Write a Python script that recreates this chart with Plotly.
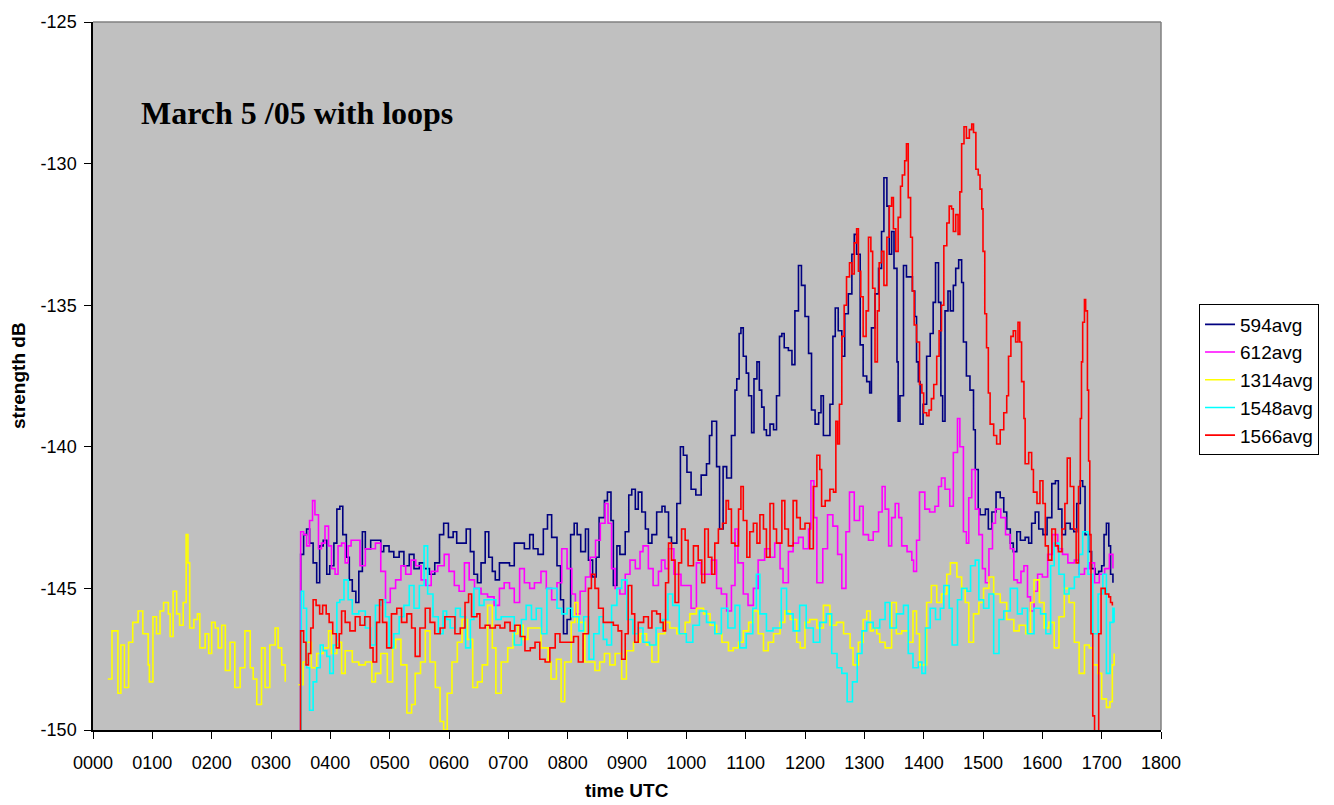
import plotly.graph_objects as go

# ---------------- data (time in HHMM-like units, 100 = 1 hour; values in dB) ----------------
t_594 = [348, 350, 355, 360, 365, 371, 377, 382, 388, 394, 399, 406, 411, 416, 421, 427, 432, 437, 443, 448,
         454, 459, 468, 476, 485, 490, 499, 507, 516, 524, 533, 541, 550, 558, 567, 576, 584, 591, 599, 607,
         613, 622, 629, 636, 642, 648, 654, 661, 667, 673, 678, 685, 693, 702, 710, 719, 727, 736, 742, 750,
         759, 766, 773, 782, 788, 793, 799, 805, 811, 816, 822, 830, 835, 842, 848, 853, 862, 867, 873, 877,
         883, 888, 897, 903, 908, 914, 919, 925, 931, 936, 942, 950, 959, 964, 970, 975, 984, 990, 995, 1001,
         1008, 1016, 1025, 1034, 1039, 1043, 1051, 1056, 1062, 1068, 1076, 1082, 1085, 1089, 1092, 1096, 1101,
         1105, 1110, 1114, 1119, 1123, 1127, 1131, 1135, 1141, 1147, 1152, 1157, 1161, 1165, 1172, 1178, 1183,
         1189, 1194, 1200, 1206, 1211, 1217, 1223, 1227, 1231, 1237, 1242, 1247, 1251, 1256, 1262, 1267, 1273,
         1279, 1283, 1287, 1293, 1298, 1304, 1309, 1312, 1318, 1324, 1329, 1333, 1338, 1342, 1346, 1350, 1355,
         1357, 1360, 1366, 1371, 1377, 1381, 1385, 1388, 1391, 1394, 1399, 1405, 1411, 1416, 1420, 1425, 1429,
         1432, 1436, 1441, 1445, 1450, 1454, 1459, 1464, 1467, 1472, 1478, 1484, 1487, 1492, 1495, 1504, 1509,
         1515, 1522, 1529, 1535, 1540, 1546, 1551, 1557, 1563, 1571, 1577, 1582, 1588, 1594, 1601, 1608, 1616,
         1622, 1627, 1633, 1639, 1647, 1653, 1658, 1664, 1668, 1672, 1678, 1683, 1689, 1695, 1700, 1704, 1708,
         1712, 1715, 1719]
v_594 = [-150.5, -143.8, -143.1, -142.9, -143.4, -144.1, -144.8, -143.5, -143.3, -144.5, -144.2, -143.4, -142.2,
         -142.1, -143.1, -143.9, -144.7, -145.1, -145.5, -144.4, -143.0, -143.6, -143.3, -143.3, -143.7, -143.5,
         -143.7, -143.9, -143.7, -144.2, -143.8, -144.3, -144.1, -144.3, -144.5, -144.1, -143.1, -142.7, -143.2,
         -143.0, -143.4, -143.4, -142.9, -143.7, -144.5, -144.8, -144.1, -143.0, -143.9, -144.4, -144.7, -144.1,
         -144.1, -144.2, -143.4, -143.4, -143.6, -143.1, -143.6, -143.8, -142.9, -142.4, -143.2, -144.2, -145.4,
         -146.6, -146.1, -143.1, -142.7, -143.1, -143.7, -142.9, -144.0, -144.6, -143.9, -142.5, -141.9, -141.6,
         -142.6, -144.9, -143.5, -143.8, -143.0, -141.7, -141.5, -142.2, -141.6, -142.3, -142.9, -143.4, -143.1,
         -142.3, -142.1, -142.3, -143.2, -143.4, -142.0, -140.0, -140.3, -140.9, -141.5, -141.7, -141.0, -140.6,
         -139.6, -139.1, -140.7, -142.9, -140.7, -141.1, -139.6, -138.0, -137.6, -136.0, -135.8, -136.8, -137.4,
         -138.2, -139.5, -137.6, -137.0, -138.0, -138.6, -139.4, -139.6, -139.2, -139.4, -138.2, -136.1, -136.0,
         -136.5, -136.6, -137.1, -135.2, -133.6, -134.3, -135.4, -136.7, -138.7, -139.2, -138.8, -138.2, -139.6,
         -139.6, -138.5, -136.1, -135.1, -135.9, -136.8, -135.3, -134.6, -133.2, -132.5, -133.2, -136.4, -137.5,
         -137.7, -138.1, -135.8, -134.6, -133.7, -132.4, -130.5, -131.5, -133.2, -132.4, -133.7, -137.0, -139.1,
         -138.2, -133.6, -134.0, -134.0, -134.5, -135.4, -137.0, -137.7, -139.2, -138.5, -136.8, -136.0, -134.9,
         -133.5, -134.9, -138.2, -139.1, -135.2, -134.5, -135.2, -134.3, -133.7, -133.4, -134.2, -136.3, -137.5,
         -138.0, -139.4, -140.8, -142.2, -142.4, -142.2, -142.9, -142.3, -141.6, -141.8, -142.3, -142.9, -143.4,
         -143.7, -143.0, -143.3, -143.2, -143.4, -142.7, -142.3, -142.9, -143.1, -142.5, -141.3, -141.2, -142.2,
         -143.1, -142.7, -142.9, -143.0, -142.0, -141.2, -141.4, -143.1, -143.7, -144.3, -144.5, -144.4, -144.2,
         -143.1, -142.7, -143.5, -144.5, -144.8]

t_612 = [349, 350, 355, 360, 365, 370, 374, 380, 385, 391, 397, 402, 408, 413, 419, 425, 430, 435, 444, 450,
         459, 467, 476, 485, 493, 501, 510, 519, 527, 536, 544, 553, 561, 570, 581, 592, 600, 609, 617, 626,
         634, 643, 654, 665, 676, 685, 693, 702, 710, 719, 727, 736, 744, 755, 764, 773, 782, 790, 799, 807,
         813, 821, 830, 838, 847, 855, 863, 868, 874, 880, 888, 897, 905, 914, 922, 927, 936, 944, 953, 958,
         964, 970, 979, 991, 999, 1008, 1017, 1025, 1034, 1042, 1051, 1059, 1068, 1076, 1082, 1087, 1096, 1104,
         1113, 1121, 1132, 1141, 1149, 1158, 1163, 1172, 1180, 1189, 1197, 1206, 1210, 1215, 1220, 1230, 1238,
         1247, 1255, 1262, 1269, 1275, 1283, 1292, 1298, 1307, 1315, 1324, 1330, 1335, 1341, 1346, 1352, 1358,
         1363, 1372, 1380, 1383, 1388, 1393, 1402, 1410, 1419, 1425, 1430, 1436, 1444, 1450, 1457, 1461, 1467,
         1472, 1476, 1481, 1487, 1493, 1499, 1504, 1510, 1516, 1521, 1530, 1538, 1546, 1552, 1558, 1564, 1569,
         1575, 1580, 1586, 1592, 1600, 1609, 1617, 1626, 1634, 1643, 1654, 1662, 1671, 1679, 1688, 1696, 1705,
         1713, 1719]
v_612 = [-150.5, -143.0, -143.1, -143.5, -142.6, -141.9, -142.4, -143.6, -143.4, -142.8, -143.5, -144.3, -144.5,
         -143.5, -143.4, -144.1, -143.5, -143.3, -143.3, -144.2, -143.6, -143.6, -143.4, -144.4, -145.5, -145.0,
         -144.7, -144.2, -144.5, -144.0, -144.2, -144.7, -144.9, -144.4, -144.2, -143.8, -144.4, -144.9, -145.1,
         -144.1, -144.7, -145.0, -145.2, -145.3, -145.6, -145.0, -144.8, -145.0, -145.5, -144.3, -144.8, -145.0,
         -144.8, -144.4, -145.0, -145.4, -144.8, -143.6, -144.3, -145.2, -145.9, -145.1, -144.6, -143.9, -143.3,
         -142.7, -142.0, -142.7, -144.3, -145.0, -145.2, -144.5, -144.0, -144.3, -143.7, -143.5, -144.3, -144.9,
         -144.4, -144.0, -144.3, -143.6, -144.5, -144.9, -144.9, -145.7, -144.1, -144.5, -144.5, -144.0, -145.0,
         -145.2, -145.8, -144.9, -142.9, -144.1, -145.2, -145.6, -145.0, -144.0, -143.6, -143.9, -143.4, -144.3,
         -144.8, -143.7, -143.4, -143.2, -143.6, -142.9, -141.2, -142.5, -144.8, -143.6, -142.4, -142.8, -143.8,
         -145.0, -143.0, -141.6, -142.6, -142.1, -143.1, -143.3, -143.0, -142.3, -141.4, -142.2, -143.5, -142.5,
         -142.0, -142.5, -143.5, -143.7, -144.0, -144.4, -143.3, -141.6, -142.2, -142.3, -142.1, -141.4, -141.1,
         -141.5, -142.1, -140.2, -139.0, -140.0, -143.0, -143.4, -141.8, -140.8, -142.2, -143.1, -144.3, -144.8,
         -143.6, -142.7, -142.2, -142.5, -143.1, -143.6, -144.7, -144.8, -144.4, -144.2, -145.3, -145.8, -145.1,
         -144.5, -144.6, -143.8, -143.1, -143.6, -143.8, -144.1, -144.0, -144.5, -144.3, -144.1, -144.8, -144.5,
         -144.3, -143.8, -144.3]

t_1314 = [25, 32, 42, 47, 53, 60, 67, 76, 84, 93, 95, 101, 107, 113, 119, 127, 130, 135, 141, 146, 152, 157,
          160, 163, 170, 176, 180, 189, 195, 200, 206, 211, 217, 223, 231, 239, 248, 256, 265, 270, 276, 284,
          290, 298, 307, 312, 318, 324, 335, 346, 354, 360, 368, 377, 388, 397, 402, 411, 419, 425, 437, 448,
          459, 470, 476, 485, 496, 505, 510, 519, 529, 537, 543, 552, 560, 568, 577, 585, 591, 597, 605, 614,
          622, 631, 640, 648, 656, 665, 673, 679, 688, 699, 708, 716, 725, 733, 744, 755, 767, 772, 781, 789,
          795, 806, 812, 817, 829, 837, 846, 854, 862, 871, 880, 891, 899, 911, 922, 933, 942, 953, 964, 972,
          984, 998, 1006, 1017, 1029, 1040, 1051, 1060, 1071, 1079, 1088, 1096, 1105, 1113, 1121, 1130, 1138,
          1147, 1158, 1166, 1175, 1186, 1192, 1200, 1208, 1220, 1231, 1242, 1253, 1265, 1276, 1281, 1290, 1298,
          1304, 1310, 1315, 1321, 1326, 1335, 1346, 1354, 1363, 1374, 1382, 1388, 1393, 1405, 1413, 1422, 1430,
          1439, 1445, 1456, 1464, 1470, 1476, 1484, 1493, 1501, 1510, 1518, 1529, 1540, 1552, 1561, 1572, 1580,
          1586, 1595, 1603, 1611, 1620, 1628, 1637, 1645, 1654, 1662, 1671, 1679, 1685, 1694, 1700, 1708, 1714,
          1718, 1721]
v_1314 = [-148.2, -146.5, -148.7, -147.0, -148.5, -146.9, -146.2, -145.8, -146.6, -147.7, -148.3, -146.0, -146.6,
          -145.8, -145.5, -145.9, -146.7, -145.1, -145.9, -146.3, -145.5, -143.1, -144.1, -146.4, -146.1, -145.9,
          -147.1, -146.6, -147.3, -146.2, -146.4, -147.1, -146.3, -147.9, -146.9, -148.5, -147.8, -146.5, -147.8,
          -148.2, -149.1, -147.1, -148.5, -147.0, -146.4, -147.1, -147.7, -148.3, None, -148.4, -147.6, -146.9,
          -147.8, -147.3, -147.1, -146.5, -147.3, -146.9, -148.0, -147.2, -147.6, -147.7, -147.6, -148.3, -148.0,
          -147.3, -148.3, -147.1, -146.8, -147.7, -149.4, -149.1, -148.0, -147.6, -146.5, -147.6, -148.5, -149.7,
          -150.0, -148.7, -147.6, -146.9, -146.1, -146.8, -148.5, -148.3, -147.7, -145.6, -147.1, -148.7, -147.6,
          -147.1, -146.6, -146.3, -146.8, -146.4, -146.4, -147.1, -147.6, -148.2, -147.5, -149.0, -147.6, -146.2,
          -145.5, -146.2, -147.6, -147.6, -147.9, -147.6, -147.3, -147.7, -147.3, -148.2, -147.2, -146.9, -146.6,
          -147.0, -147.6, -146.6, -146.2, -146.4, -146.6, -146.2, -145.9, -145.7, -145.9, -146.3, -146.6, -146.9,
          -147.2, -147.1, -146.9, -146.5, -146.2, -145.8, -146.6, -147.2, -146.9, -146.6, -146.2, -145.8, -146.1,
          -146.9, -147.1, -146.2, -146.1, -146.4, -145.6, -146.3, -146.2, -146.6, -147.1, -147.7, -146.9, -146.1,
          -145.8, -146.5, -146.4, -146.6, -146.9, -147.1, -145.5, -146.6, -146.5, -146.9, -145.8, -146.6, -147.7,
          -145.5, -144.9, -145.5, -145.2, -144.5, -144.1, -144.6, -145.0, -145.5, -146.9, -145.9, -145.5, -145.0,
          -144.6, -145.2, -145.5, -146.1, -146.5, -146.3, -146.6, -145.5, -144.7, -145.5, -146.4, -146.2, -147.1,
          -146.0, -145.0, -145.5, -146.9, -148.0, -147.0, -147.1, -147.7, -148.0, -148.9, -149.2, -149.0, -147.7,
          -147.3]

t_1548 = [349, 351, 355, 360, 365, 371, 377, 383, 388, 394, 399, 405, 411, 416, 423, 430, 437, 448, 459, 468,
          476, 485, 493, 499, 507, 516, 524, 533, 541, 550, 558, 564, 573, 582, 590, 596, 602, 611, 619, 628,
          636, 642, 651, 659, 670, 679, 688, 699, 710, 722, 730, 739, 747, 756, 765, 773, 782, 790, 799, 807,
          819, 827, 836, 844, 853, 860, 866, 874, 883, 891, 900, 910, 919, 927, 938, 949, 960, 969, 977, 988,
          1000, 1011, 1022, 1034, 1048, 1059, 1070, 1082, 1090, 1101, 1112, 1118, 1124, 1135, 1146, 1160, 1169,
          1180, 1191, 1202, 1214, 1225, 1236, 1245, 1254, 1262, 1271, 1280, 1288, 1296, 1304, 1315, 1326, 1335,
          1343, 1354, 1366, 1374, 1382, 1391, 1397, 1403, 1411, 1420, 1428, 1434, 1443, 1448, 1457, 1464, 1473,
          1479, 1487, 1493, 1501, 1510, 1518, 1527, 1535, 1546, 1558, 1566, 1575, 1586, 1597, 1606, 1614, 1620,
          1628, 1637, 1645, 1654, 1662, 1668, 1677, 1685, 1694, 1702, 1708, 1714, 1719, 1721]
v_1548 = [-150.5, -145.1, -145.7, -147.8, -149.3, -148.3, -147.8, -147.0, -147.2, -147.4, -148.0, -147.0, -145.5,
          -145.4, -144.7, -145.4, -145.9, -145.8, -146.4, -147.0, -145.6, -145.4, -146.0, -147.1, -146.6, -146.0,
          -145.6, -144.9, -145.7, -144.9, -143.5, -145.2, -146.0, -146.6, -145.8, -146.1, -146.4, -145.7, -146.0,
          -147.1, -146.1, -145.0, -145.6, -145.4, -145.4, -146.1, -146.0, -146.0, -147.0, -146.1, -145.6, -146.1,
          -145.7, -146.6, -145.0, -145.0, -145.7, -145.9, -145.7, -146.0, -146.5, -146.0, -147.5, -146.6, -146.0,
          -146.8, -147.0, -145.6, -145.0, -144.7, -146.1, -146.6, -146.4, -146.9, -147.0, -146.4, -146.1, -145.2,
          -145.6, -146.6, -146.9, -146.3, -145.8, -146.2, -146.6, -145.7, -146.4, -145.6, -147.1, -146.6, -145.7,
          -144.5, -145.9, -146.5, -146.4, -145.0, -145.9, -146.5, -145.6, -146.4, -146.9, -146.2, -145.9, -147.3,
          -147.8, -148.0, -149.0, -148.3, -147.3, -146.5, -146.2, -146.4, -146.1, -145.5, -146.4, -145.9, -145.6,
          -147.3, -147.8, -147.6, -148.0, -146.4, -145.7, -146.1, -145.7, -144.9, -145.7, -147.0, -145.4, -145.0,
          -145.1, -144.2, -144.0, -145.4, -145.7, -145.2, -147.3, -146.1, -145.8, -145.0, -145.9, -145.7, -146.6,
          -145.7, -145.9, -146.6, -144.2, -143.4, -144.5, -145.2, -145.0, -144.6, -143.8, -143.0, -144.5, -146.6,
          -145.2, -144.5, -148.0, -146.2, -145.7, -146.2]

t_1566 = [349, 350, 355, 359, 363, 367, 371, 376, 382, 387, 393, 398, 404, 410, 415, 419, 425, 433, 442, 450,
          458, 467, 472, 478, 483, 488, 495, 503, 512, 520, 529, 537, 543, 551, 560, 568, 576, 585, 593, 602,
          610, 619, 627, 633, 638, 647, 652, 661, 669, 678, 686, 694, 703, 711, 720, 728, 737, 745, 753, 762,
          770, 779, 787, 798, 810, 818, 826, 835, 840, 846, 852, 860, 869, 877, 885, 891, 897, 902, 908, 913,
          919, 928, 936, 942, 950, 956, 961, 965, 970, 975, 981, 987, 992, 998, 1003, 1012, 1020, 1026, 1031,
          1037, 1043, 1048, 1054, 1061, 1067, 1071, 1076, 1082, 1088, 1092, 1096, 1102, 1107, 1113, 1119, 1124,
          1130, 1135, 1141, 1147, 1152, 1161, 1166, 1172, 1180, 1186, 1192, 1200, 1208, 1214, 1220, 1225, 1228,
          1234, 1242, 1248, 1252, 1255, 1258, 1262, 1266, 1270, 1275, 1279, 1283, 1287, 1290, 1294, 1298, 1303,
          1307, 1311, 1314, 1318, 1322, 1325, 1329, 1333, 1338, 1342, 1346, 1349, 1353, 1357, 1361, 1364, 1368,
          1371, 1374, 1378, 1381, 1384, 1388, 1393, 1397, 1400, 1405, 1409, 1413, 1417, 1422, 1426, 1430, 1434,
          1439, 1443, 1447, 1450, 1454, 1458, 1461, 1464, 1468, 1472, 1477, 1481, 1484, 1488, 1492, 1495, 1498,
          1500, 1503, 1506, 1509, 1512, 1518, 1523, 1529, 1535, 1540, 1543, 1547, 1551, 1555, 1559, 1562, 1565,
          1569, 1571, 1577, 1582, 1585, 1591, 1596, 1601, 1605, 1610, 1616, 1622, 1627, 1633, 1638, 1642, 1647,
          1653, 1657, 1661, 1664, 1666, 1668, 1671, 1673, 1676, 1678, 1680, 1682, 1685, 1688, 1692, 1695, 1699,
          1702, 1706, 1712, 1715, 1718]
v_1566 = [-150.5, -146.5, -146.9, -147.7, -147.3, -146.4, -145.4, -145.6, -145.9, -145.6, -145.9, -146.2, -146.6,
          -147.1, -146.6, -145.8, -146.2, -146.5, -146.0, -146.3, -146.0, -147.1, -147.6, -146.2, -145.4, -146.2,
          -147.1, -145.9, -145.7, -146.2, -145.9, -146.4, -147.4, -146.4, -145.7, -146.2, -146.6, -146.4, -146.0,
          -146.0, -146.6, -146.4, -145.5, -145.2, -146.0, -145.9, -146.4, -146.3, -146.4, -146.3, -146.4, -146.2,
          -146.5, -146.3, -146.7, -147.2, -147.1, -146.9, -147.5, -147.6, -147.1, -146.6, -146.9, -146.9, -146.7,
          -147.6, -146.6, -145.0, -144.5, -145.0, -145.7, -146.2, -146.2, -146.3, -146.5, -147.5, -146.6, -144.9,
          -145.9, -146.9, -146.2, -146.0, -146.4, -145.8, -145.9, -146.2, -146.5, -144.8, -143.4, -144.0, -145.5,
          -144.1, -142.9, -143.3, -144.2, -143.5, -144.0, -144.8, -142.9, -143.9, -144.5, -143.4, -142.9, -142.7,
          -141.9, -142.2, -143.4, -143.5, -142.2, -141.4, -142.6, -143.9, -143.0, -142.7, -143.4, -142.4, -142.9,
          -143.9, -142.0, -142.9, -143.4, -141.9, -142.9, -143.5, -141.9, -142.5, -142.9, -142.7, -143.6, -141.4,
          -140.3, -140.8, -142.1, -141.9, -141.5, -141.6, -139.1, -139.9, -138.5, -136.1, -135.0, -134.0, -133.5,
          -133.9, -132.8, -132.3, -133.8, -134.7, -136.1, -135.2, -132.6, -133.1, -134.4, -137.0, -135.2, -133.5,
          -133.1, -134.3, -132.6, -131.5, -131.2, -132.3, -133.1, -131.9, -130.8, -130.4, -129.9, -129.3, -131.2,
          -132.6, -134.5, -135.7, -136.3, -137.8, -138.1, -138.8, -138.9, -138.7, -138.3, -137.8, -136.8, -135.9,
          -135.0, -132.9, -132.1, -131.5, -131.6, -132.4, -131.8, -132.5, -131.0, -129.3, -128.7, -129.1, -128.8,
          -128.6, -128.9, -130.2, -130.4, -130.9, -131.6, -133.1, -135.3, -136.5, -138.1, -139.2, -139.6, -139.9,
          -139.4, -138.8, -138.2, -136.8, -136.1, -135.9, -136.3, -135.6, -136.3, -137.7, -139.0, -140.6, -140.2,
          -140.8, -141.6, -142.0, -141.2, -142.0, -143.5, -144.0, -142.9, -143.5, -143.7, -142.9, -142.0, -140.4,
          -141.4, -142.9, -144.1, -141.4, -139.0, -137.0, -135.6, -134.8, -135.2, -138.0, -140.5, -143.1, -146.6,
          -149.5, -150.5, -150.5, -146.6, -145.0, -145.0, -145.2, -145.3, -145.5, -145.6]

series_names = ["594avg", "612avg", "1314avg", "1548avg", "1566avg"]
series_colors = ["#000080", "#FF00FF", "#FFFF00", "#00FFFF", "#FF0000"]
series_t = [t_594, t_612, t_1314, t_1548, t_1566]
series_v = [v_594, v_612, v_1314, v_1548, v_1566]

x_tickvals = list(range(0, 1900, 100))
x_ticktext = ["%04d" % v for v in x_tickvals]
y_tickvals = [-150, -145, -140, -135, -130, -125]
y_ticktext = ["-150", "-145", "-140", "-135", "-130", "-125"]

# ---------------- figure ----------------
fig = go.Figure()
for name, col, tt, vv in zip(series_names, series_colors, series_t, series_v):
    fig.add_trace(go.Scatter(x=tt, y=vv, mode="lines", name=name,
                             line=dict(color=col, width=1.6, shape="hv"), connectgaps=False))

fig.update_layout(
    width=1334, height=805,
    margin=dict(l=93, r=173, t=16, b=75),
    paper_bgcolor="white", plot_bgcolor="#C0C0C0",
    font=dict(family="Liberation Sans, Arial, sans-serif", color="black"),
    showlegend=True,
    legend=dict(x=1.0356, y=0.601, xanchor="left", yanchor="top",
                bgcolor="white", bordercolor="black", borderwidth=1,
                font=dict(size=19, family="Liberation Sans, Arial, sans-serif")),
    xaxis=dict(range=[0, 1800], tickvals=x_tickvals, ticktext=x_ticktext,
               showgrid=False, zeroline=False, showline=True, linecolor="black", linewidth=1.5,
               ticks="outside", ticklen=7, tickcolor="black", tickwidth=1,
               tickfont=dict(size=18), ticklabelstandoff=9),
    yaxis=dict(range=[-150, -125], tickvals=y_tickvals, ticktext=y_ticktext,
               showgrid=False, zeroline=False, showline=True, linecolor="black", linewidth=1.5,
               ticks="outside", ticklen=7, tickcolor="black", tickwidth=1,
               tickfont=dict(size=18), ticklabelstandoff=4),
    annotations=[
        dict(text="<b>March 5 /05 with loops</b>", xref="paper", yref="paper",
             x=(139 - 93) / 1068, y=(730 - 108) / 714, xanchor="left", yanchor="middle",
             showarrow=False, font=dict(family="Liberation Serif, Times New Roman, serif", size=32)),
        dict(text="<b>strength dB</b>", xref="paper", yref="paper",
             x=(18 - 93) / 1068, y=0.5, xanchor="center", yanchor="middle", textangle=-90,
             showarrow=False, font=dict(size=19)),
        dict(text="<b>time UTC</b>", xref="paper", yref="paper",
             x=0.5, y=(730 - 791) / 714, xanchor="center", yanchor="middle",
             showarrow=False, font=dict(size=19)),
    ],
    shapes=[
        dict(type="line", xref="paper", yref="paper", x0=0, x1=1, y0=1, y1=1,
             line=dict(color="#808080", width=1.5)),
        dict(type="line", xref="paper", yref="paper", x0=1, x1=1, y0=0, y1=1,
             line=dict(color="#808080", width=1.5)),
    ],
)

fig.write_html("out.html")
